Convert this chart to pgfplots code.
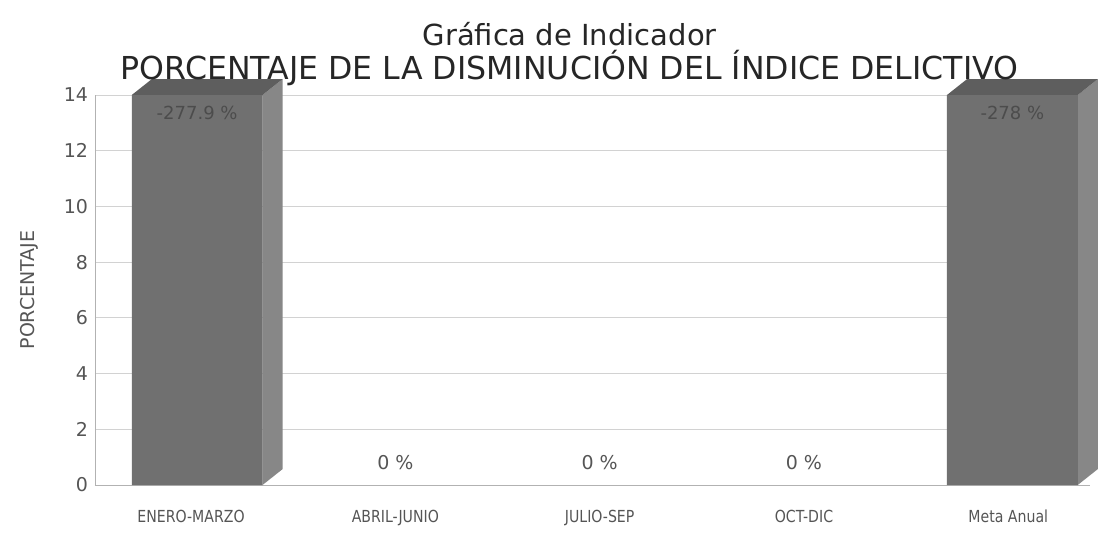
\documentclass[border=0pt]{standalone}
\usepackage{fontspec}
\setmainfont{DejaVu Sans}
\newfontfamily\cond[FakeStretch=0.85]{DejaVu Sans}
\usepackage{pgfplots}
\pgfplotsset{compat=1.18}
\definecolor{barfront}{HTML}{707070}
\definecolor{barside}{HTML}{878787}
\definecolor{bartop}{HTML}{5E5E5E}
\definecolor{txt}{HTML}{555555}
\begin{document}
\begin{tikzpicture}
\begin{axis}[
  name=ax,
  scale only axis,
  width=497.5pt, height=195pt,
  xmin=-0.47, xmax=4.40,
  ymin=0, ymax=14,
  ytick={0,2,...,14},
  xtick={0,1,2,3,4},
  xticklabels={ENERO-MARZO,ABRIL-JUNIO,JULIO-SEP,OCT-DIC,Meta Anual},
  xticklabel style={font=\cond\fontsize{8.3}{9}\selectfont, text=txt, yshift=-9pt},
  yticklabel style={font=\fontsize{9.5}{10}\selectfont, text=txt},
  /pgf/number format/assume math mode=true,
  major tick length=0pt,
  axis x line*=bottom, axis y line*=left,
  axis line style={draw=gray!60, -},
  ymajorgrids, grid style={gray!35},
  ylabel={PORCENTAJE},
  ylabel style={at={(axis description cs:-0.066,0.5)}, anchor=center, font=\fontsize{9.5}{10}\selectfont, text=txt},
  title={{\fontsize{14.5}{16}\selectfont Gráfica de Indicador}\\[1pt]{\fontsize{15.8}{17}\selectfont PORCENTAJE DE LA DISMINUCIÓN DEL ÍNDICE DELICTIVO}},
  title style={at={(axis description cs:0.477,1)}, anchor=south, align=center, yshift=-5pt, text=black!85},
  clip=false,
]
% side faces
\addplot[fill=barside, draw=none] coordinates {(0.35,0) (0.448,0.57) (0.448,14.57) (0.35,14)} -- cycle;
\addplot[fill=barside, draw=none] coordinates {(4.34,0) (4.438,0.57) (4.438,14.57) (4.34,14)} -- cycle;
% top faces
\addplot[fill=bartop, draw=none] coordinates {(-0.29,14) (0.35,14) (0.448,14.57) (-0.192,14.57)} -- cycle;
\addplot[fill=bartop, draw=none] coordinates {(3.70,14) (4.34,14) (4.438,14.57) (3.798,14.57)} -- cycle;
% front faces with labels
\addplot[ybar, bar width=0.64, fill=barfront, draw=none,
  nodes near coords, point meta=explicit symbolic,
  every node near coord/.append style={anchor=north, yshift=-2pt, font=\fontsize{9}{10}\selectfont, text=black!70}]
  coordinates {(0.03,14) [-277.9 \%] (4.02,14) [-278 \%]};
% zero categories
\addplot[draw=none, mark=none,
  nodes near coords, point meta=explicit symbolic,
  every node near coord/.append style={anchor=south, yshift=4pt, font=\fontsize{9.5}{10}\selectfont, text=txt}]
  coordinates {(1,0) [0 \%] (2,0) [0 \%] (3,0) [0 \%]};
\end{axis}
\pgfresetboundingbox
\path (ax.south west) ++(-47.5pt,-26pt) rectangle ([xshift=4pt,yshift=47.5pt]ax.north east);
\end{tikzpicture}
\end{document}
